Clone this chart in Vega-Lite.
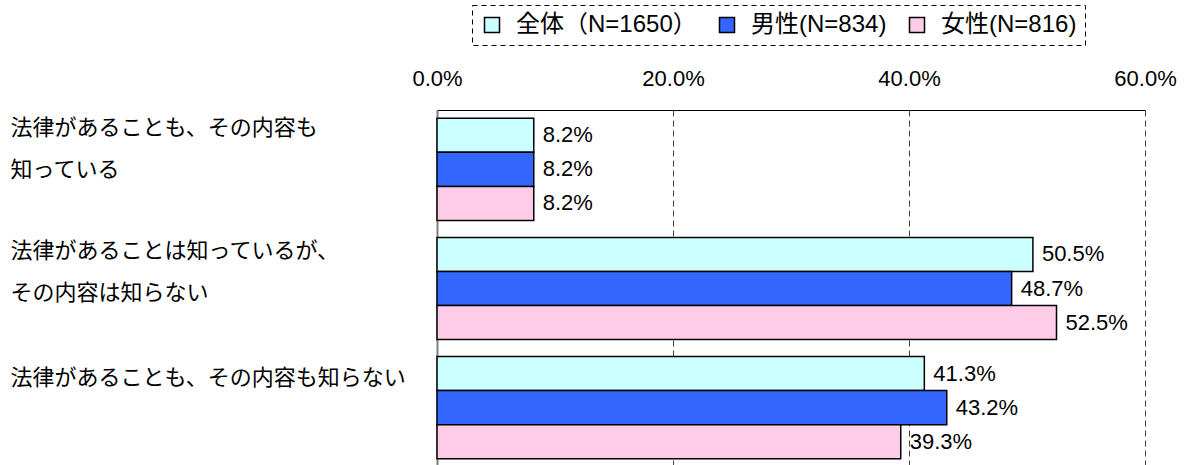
{
  "$schema": "https://vega.github.io/schema/vega-lite/v6.json",
  "width": 708,
  "height": 357,
  "autosize": "none",
  "padding": {"left": 437, "top": 110, "right": 42, "bottom": 0},
  "background": "white",
  "config": {
    "view": {"stroke": null},
    "font": "Liberation Sans, Noto Sans CJK JP"
  },
  "data": {
    "values": [
      {"item": "法律があることも、その内容も知っている", "group": "全体（N=1650）", "pct": 0.082},
      {"item": "法律があることも、その内容も知っている", "group": "男性(N=834)", "pct": 0.082},
      {"item": "法律があることも、その内容も知っている", "group": "女性(N=816)", "pct": 0.082},
      {"item": "法律があることは知っているが、その内容は知らない", "group": "全体（N=1650）", "pct": 0.505},
      {"item": "法律があることは知っているが、その内容は知らない", "group": "男性(N=834)", "pct": 0.487},
      {"item": "法律があることは知っているが、その内容は知らない", "group": "女性(N=816)", "pct": 0.525},
      {"item": "法律があることも、その内容も知らない", "group": "全体（N=1650）", "pct": 0.413},
      {"item": "法律があることも、その内容も知らない", "group": "男性(N=834)", "pct": 0.432},
      {"item": "法律があることも、その内容も知らない", "group": "女性(N=816)", "pct": 0.393}
    ]
  },
  "encoding": {
    "y": {
      "field": "item",
      "type": "nominal",
      "sort": ["法律があることも、その内容も知っている", "法律があることは知っているが、その内容は知らない", "法律があることも、その内容も知らない"],
      "scale": {"paddingInner": 0.143, "paddingOuter": 0.07},
      "axis": {
        "title": null,
        "labelAlign": "left",
        "labelBaseline": "middle",
        "labelPadding": 437,
        "labelOffset": {"expr": "datum.value == '法律があることも、その内容も知らない' ? -30 : datum.value == '法律があることは知っているが、その内容は知らない' ? -38 : -41"},
        "labelLimit": 0,
        "labelFont": "Noto Sans CJK JP",
        "labelFontSize": 22,
        "labelLineHeight": 42,
        "labelColor": "black",
        "labelExpr": "datum.value == '法律があることも、その内容も知っている' ? ['法律があることも、その内容も', '知っている'] : datum.value == '法律があることは知っているが、その内容は知らない' ? ['法律があることは知っているが、', 'その内容は知らない'] : datum.value",
        "ticks": true,
        "tickSize": -10,
        "tickColor": "#333333",
        "tickWidth": 1,
        "bandPosition": 0,
        "domainColor": "#7f7f7f",
        "domainWidth": 2,
        "grid": false
      }
    },
    "yOffset": {
      "field": "group",
      "type": "nominal",
      "sort": ["全体（N=1650）", "男性(N=834)", "女性(N=816)"],
      "scale": {"paddingInner": 0, "paddingOuter": 0}
    },
    "x": {
      "field": "pct",
      "type": "quantitative",
      "scale": {"domain": [0, 0.6], "nice": false},
      "axis": {
        "orient": "top",
        "title": null,
        "values": [0, 0.2, 0.4, 0.6],
        "format": ".1%",
        "labelFontSize": 22,
        "labelFontWeight": "normal",
        "labelColor": "black",
        "labelPadding": 20,
        "labelFlush": false,
        "ticks": false,
        "grid": true,
        "gridDash": [6, 4],
        "gridColor": "#444444",
        "gridWidth": 1,
        "domainColor": "black",
        "domainWidth": 1
      }
    }
  },
  "layer": [
    {
      "mark": {"type": "bar", "stroke": "black", "strokeWidth": 1.5},
      "encoding": {
        "color": {
          "field": "group",
          "type": "nominal",
          "scale": {
            "domain": ["全体（N=1650）", "男性(N=834)", "女性(N=816)"],
            "range": ["#CCFFFF", "#3366FF", "#FFCCE8"]
          },
          "legend": {
            "title": null,
            "orient": "none",
            "legendX": 35,
            "legendY": -105,
            "direction": "horizontal",
            "columns": 3,
            "symbolType": "square",
            "symbolSize": 225,
            "symbolStrokeColor": "black",
            "symbolStrokeWidth": 1.5,
            "labelFontSize": 24,
            "labelColor": "black",
            "labelOffset": 12,
            "labelLimit": 0,
            "columnPadding": 18,
            "strokeColor": "black",
            "padding": 8,
            "encode": {
              "legend": {"update": {"strokeDash": {"value": [5, 4]}}}
            }
          }
        }
      }
    },
    {
      "mark": {"type": "text", "align": "left", "baseline": "middle", "dx": 9, "fontSize": 22, "fontWeight": "normal", "color": "black"},
      "encoding": {
        "text": {"field": "pct", "type": "quantitative", "format": ".1%"}
      }
    }
  ]
}
